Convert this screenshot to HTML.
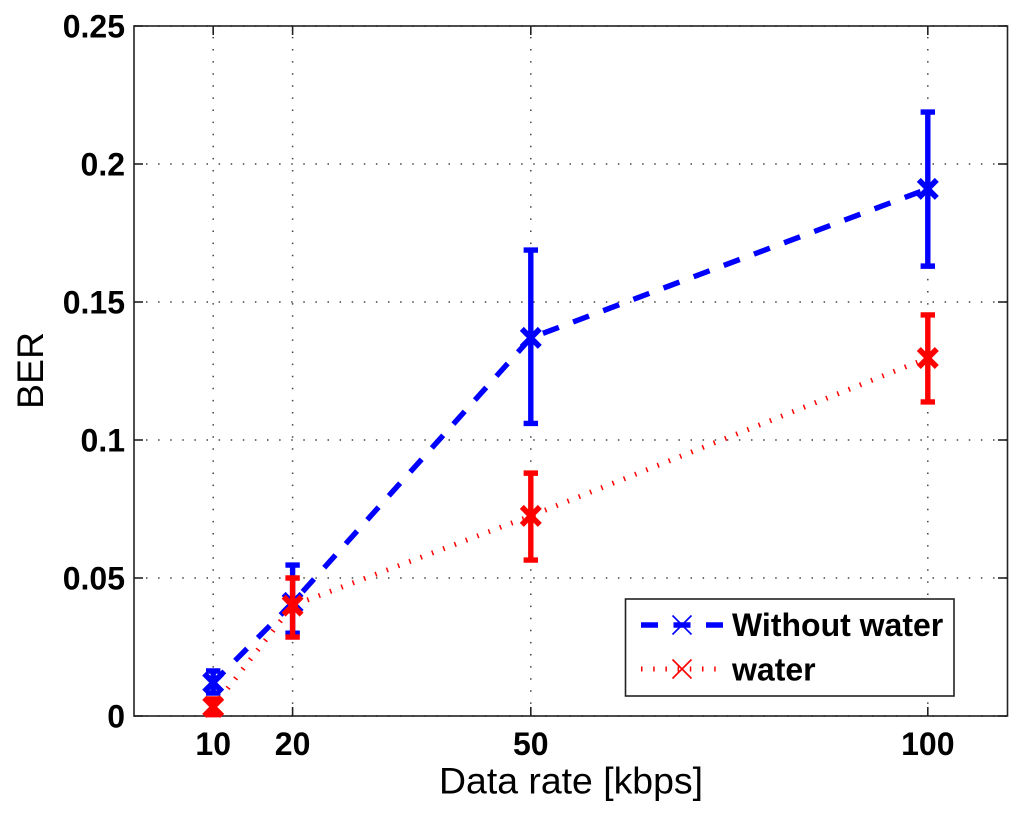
<!DOCTYPE html>
<html lang="en">
<head>
<meta charset="utf-8">
<title>BER vs data rate</title>
<style>
html,body{margin:0;padding:0;background:#fff;width:1024px;height:818px;overflow:hidden}
svg{display:block}
text{font-family:"Liberation Sans",sans-serif;fill:#000}
.tick{font-weight:bold;font-size:32px}
.title{font-size:37.4px}
.leg{font-weight:bold;font-size:32px}
</style>
</head>
<body>
<svg id="chart" xmlns="http://www.w3.org/2000/svg" width="1024" height="818" viewBox="0 0 1024 818">
  <rect x="134" y="26" width="873.5" height="690" fill="#fff"/>
  <g id="grid"></g>
  <rect x="134" y="26" width="873.5" height="690" fill="none" stroke="#222" stroke-width="1.6"/>
  <g id="ticks"></g>
  <g id="series"></g>
  <text class="title" x="571" y="793.5" text-anchor="middle">Data rate [kbps]</text>
  <text class="title" transform="translate(43,370.5) rotate(-90)" text-anchor="middle">BER</text>
  <g>
    <rect x="625.5" y="599" width="328.5" height="97" fill="#fff" stroke="#222" stroke-width="1.6"/>
    <g>
      <line x1="641" y1="625" x2="723" y2="625" stroke="#0000ff" stroke-width="5.5" stroke-dasharray="17 15.5"/>
      <path d="M672.5 615.5L691.5 634.5M672.5 634.5L691.5 615.5" stroke="#0000ff" stroke-width="1.6" fill="none"/>
      <text class="leg" x="732" y="636">Without water</text>
    </g>
    <g>
      <line x1="641" y1="669" x2="723" y2="669" stroke="#ff0000" stroke-width="5" stroke-dasharray="1.5 10.7"/>
      <path d="M672.5 659.5L691.5 678.5M672.5 678.5L691.5 659.5" stroke="#ff0000" stroke-width="1.6" fill="none"/>
      <text class="leg" x="732" y="680.5">water</text>
    </g>
  </g>
</svg>
<script>
const dataRates = [10, 20, 50, 100];
const xTickLabels = ['10', '20', '50', '100'];
const yTickValues = [0, 0.05, 0.1, 0.15, 0.2, 0.25];
const yTickLabels = ['0', '0.05', '0.1', '0.15', '0.2', '0.25'];
const withoutWater = [0.0121, 0.041, 0.137, 0.191];
const withoutWaterLow = [0.0083, 0.030, 0.106, 0.163];
const withoutWaterHigh = [0.0163, 0.0547, 0.1688, 0.2188];
const waterValues = [0.0033, 0.040, 0.0725, 0.1297];
const waterLow = [0.0005, 0.0286, 0.0565, 0.1138];
const waterHigh = [0.0062, 0.050, 0.088, 0.1453];

const NS = 'http://www.w3.org/2000/svg';
const xScale = v => 133.8 + v * 7.94;
const yScale = v => 716 - v * 2760;

function make(parent, tag, attrs, text) {
  const el = document.createElementNS(NS, tag);
  for (const k in attrs) el.setAttribute(k, attrs[k]);
  if (text !== undefined) el.textContent = text;
  parent.appendChild(el);
  return el;
}

const gridG = document.getElementById('grid');
const ticksG = document.getElementById('ticks');
const seriesG = document.getElementById('series');

dataRates.forEach((d, i) => {
  const x = xScale(d);
  const gl = make(gridG, 'line', {x1: x, y1: 716, x2: x, y2: 26, stroke: '#444', 'stroke-width': 1.5, 'stroke-dasharray': '1.5 10.6'});
  
  
  const t1 = make(ticksG, 'line', {x1: x, y1: 716, x2: x, y2: 707, stroke: '#222', 'stroke-width': 1.6});
  
  
  const t2 = make(ticksG, 'line', {x1: x, y1: 26, x2: x, y2: 35, stroke: '#222', 'stroke-width': 1.6});
  
  
  const lb = make(ticksG, 'text', {class: 'tick', x: x, y: 755, 'text-anchor': 'middle'}, xTickLabels[i]);
  
  
});

yTickValues.forEach((v, i) => {
  const y = yScale(v);
  const gl = make(gridG, 'line', {x1: 134, y1: y, x2: 1007, y2: y, stroke: '#444', 'stroke-width': 1.5, 'stroke-dasharray': '1.5 10.6', 'stroke-dashoffset': -12});
  
  
  const t1 = make(ticksG, 'line', {x1: 134, y1: y, x2: 143, y2: y, stroke: '#222', 'stroke-width': 1.6});
  
  
  const t2 = make(ticksG, 'line', {x1: 1007, y1: y, x2: 998, y2: y, stroke: '#222', 'stroke-width': 1.6});
  
  
  const lb = make(ticksG, 'text', {class: 'tick', x: 125, y: y + 11.5, 'text-anchor': 'end'}, yTickLabels[i]);
  
  
});

function drawSeries(name, color, values, low, high, lineWidth, dash, dashOffset) {
  const g = make(seriesG, 'g', {});
  
  
  const pts = values.map((v, i) => xScale(dataRates[i]) + ',' + yScale(v)).join(' ');
  const line = make(g, 'polyline', {points: pts, fill: 'none', stroke: color, 'stroke-width': lineWidth, 'stroke-dasharray': dash, 'stroke-dashoffset': dashOffset, 'stroke-linejoin': 'bevel'});
  
  
  values.forEach((v, i) => {
    const x = xScale(dataRates[i]);
    const y = yScale(v);
    const yl = yScale(low[i]);
    const yh = yScale(high[i]);
    const bar = make(g, 'path', {
      d: 'M' + x + ' ' + yl + 'V' + yh + 'M' + (x - 7.2) + ' ' + yl + 'H' + (x + 7.2) + 'M' + (x - 7.2) + ' ' + yh + 'H' + (x + 7.2),
      fill: 'none', stroke: color, 'stroke-width': 5.4
    });
    
    
    const m = 9;
    const mark = make(g, 'path', {
      d: 'M' + (x - m) + ' ' + (y - m) + 'L' + (x + m) + ' ' + (y + m) + 'M' + (x - m) + ' ' + (y + m) + 'L' + (x + m) + ' ' + (y - m),
      fill: 'none', stroke: color, 'stroke-width': 5.6
    });
    
    
  });
}

drawSeries('without-water-series', '#0000ff', withoutWater, withoutWaterLow, withoutWaterHigh, 5.4, '17 15.2', 1.2);
drawSeries('water-series', '#ff0000', waterValues, waterLow, waterHigh, 5, '1.5 10.6', 0.75);
</script>
</body>
</html>
